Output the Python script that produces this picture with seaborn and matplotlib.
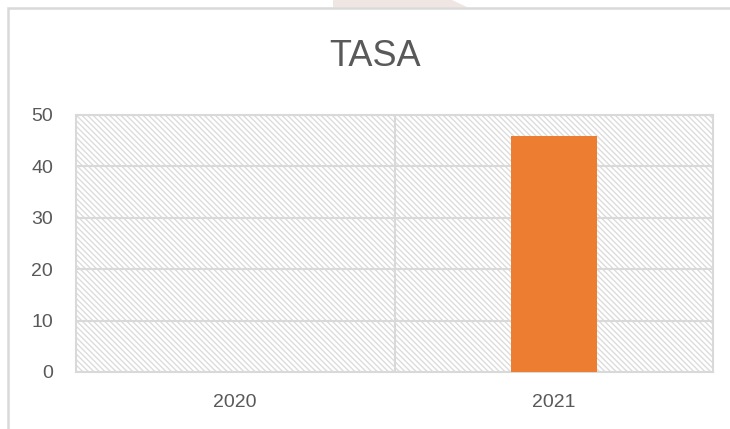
import matplotlib
matplotlib.use("Agg")
import matplotlib.pyplot as plt
import matplotlib.patches as mpatches
import seaborn as sns
import pandas as pd

categories = ["2020", "2021"]
values = [0, 46]
yticks = [0, 10, 20, 30, 40, 50]
title = "TASA"

sns.set_theme(style="white")
plt.rcParams['font.family'] = ['Liberation Sans', 'DejaVu Sans']
plt.rcParams['hatch.linewidth'] = 1.0
plt.rcParams['hatch.color'] = '#dcdcdc'

df = pd.DataFrame({"year": categories, "value": values})

W, H = 730, 429
fig = plt.figure(figsize=(7.3, 4.29), dpi=100)
fig.patch.set_facecolor("white")

def fx(px):
    return px / W

def fy(py):
    return 1 - py / H

# faint watermark shape at the top edge
wm = mpatches.Polygon([(fx(333), fy(0)), (fx(333), fy(7.5)), (fx(468), fy(7.5)), (fx(452), fy(0))],
                      closed=True, transform=fig.transFigure, facecolor="#efe6e3",
                      edgecolor="none", zorder=0)
fig.patches.append(wm)

# outer chart frame
frame = mpatches.Rectangle((fx(8), -0.05), 1.0, fy(7.5) + 0.05, transform=fig.transFigure,
                           fill=False, edgecolor="#d9d9d9", linewidth=1.8, zorder=1)
fig.patches.append(frame)

ax = fig.add_axes([fx(76), fy(372), (713 - 76) / W, (372 - 115) / H])
ax.set_facecolor("white")
bg = mpatches.Rectangle((0, 0), 1, 1, transform=ax.transAxes, facecolor="white",
                        edgecolor="#dcdcdc", hatch="\\" * 6, linewidth=0, zorder=0)
ax.add_patch(bg)

sns.barplot(data=df, x="year", y="value", color="#ED7D31", width=0.27, ax=ax,
            saturation=1, linewidth=0, zorder=3)

ax.set_ylim(0, 50)
ax.set_xlim(-0.5, 1.5)
ax.set_yticks(yticks)
ax.set_yticklabels([str(t) for t in yticks])
for y in yticks:
    ax.axhline(y, color="#d9d9d9", linewidth=1.5, zorder=1)
ax.axvline(0.5, color="#d9d9d9", linewidth=1.5, zorder=1)
for side in ["top", "right", "left", "bottom"]:
    ax.spines[side].set_visible(True)
    ax.spines[side].set_color("#d9d9d9")
    ax.spines[side].set_linewidth(1.5)
ax.tick_params(axis="both", length=0, labelsize=14, colors="#595959")
ax.tick_params(axis="y", pad=16.5)
ax.tick_params(axis="x", pad=16)
ax.set_xlabel("")
ax.set_ylabel("")
fig.text(fx(375), fy(57), title, ha="center", va="center", fontsize=26, color="#595959")

fig.savefig("out.png", dpi=100)
